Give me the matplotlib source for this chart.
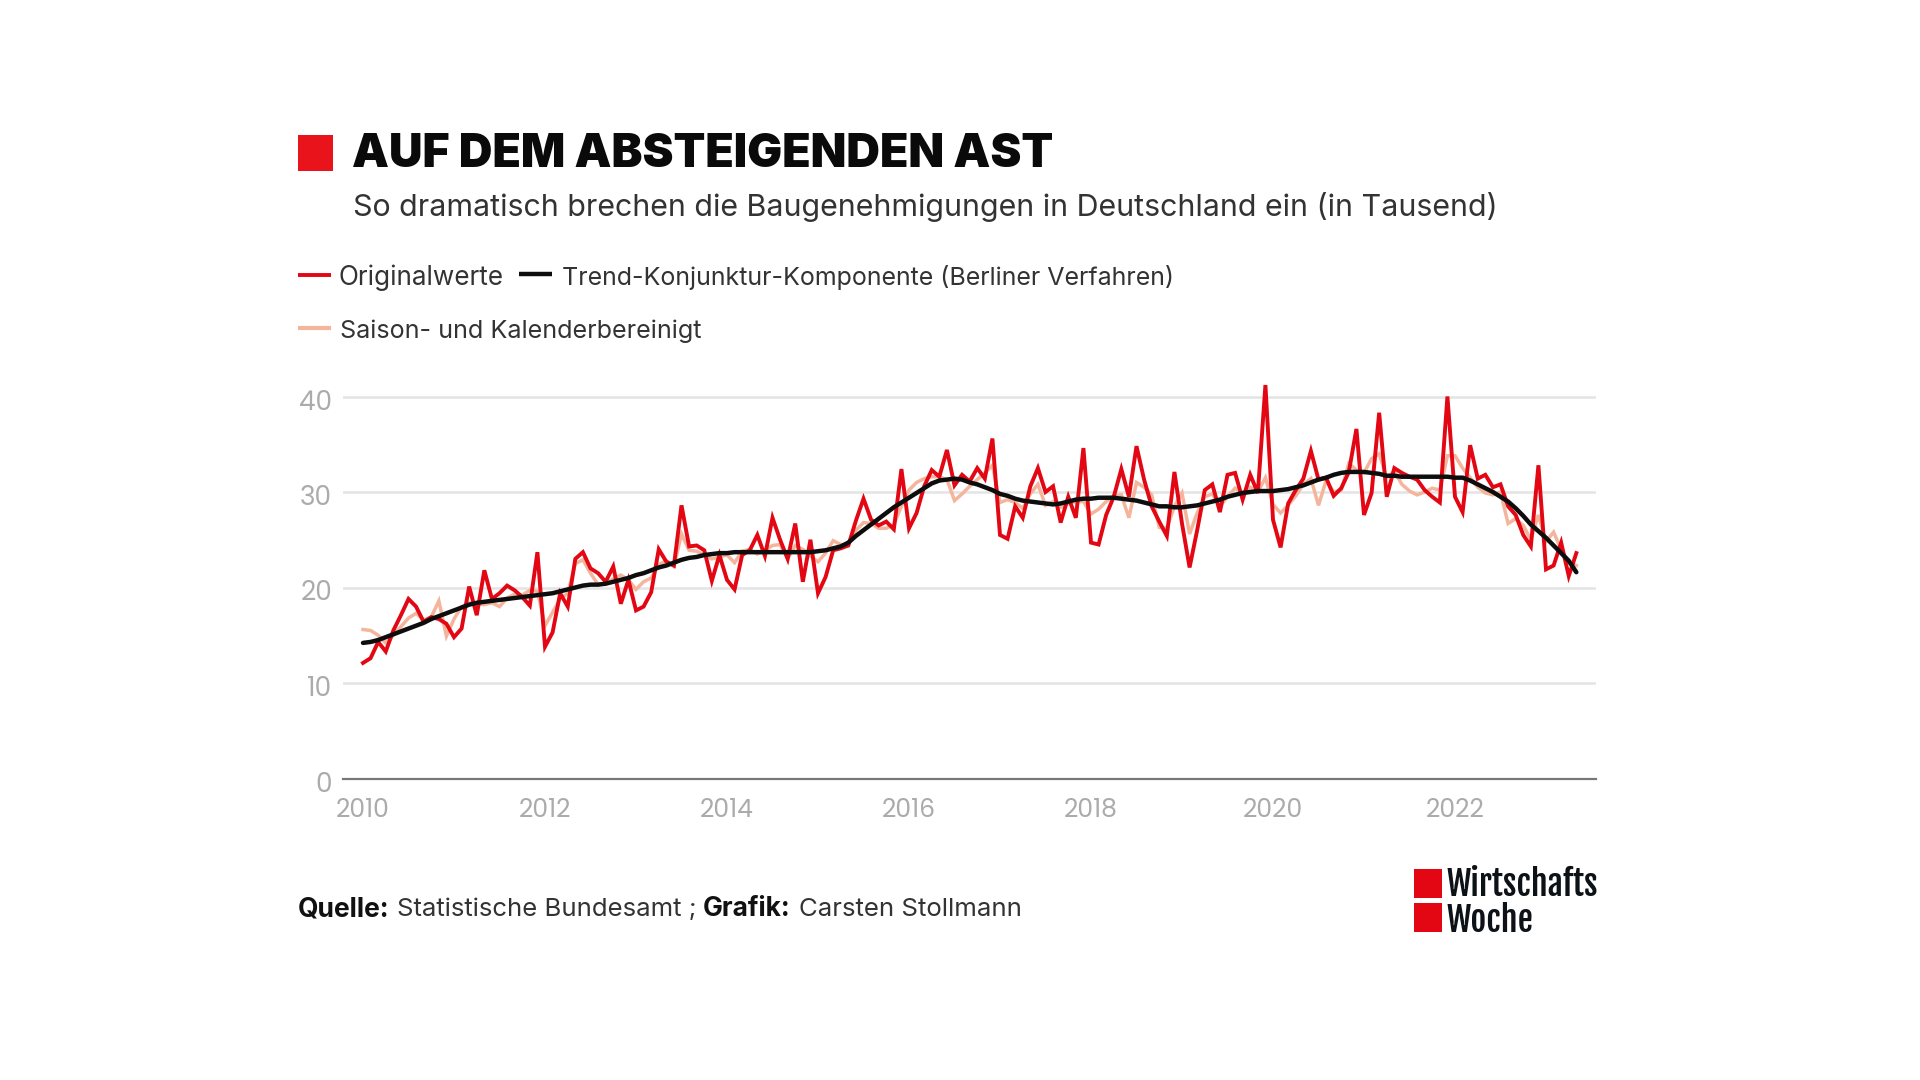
import numpy as np
import matplotlib
matplotlib.use("Agg")
import matplotlib.pyplot as plt
from matplotlib.patches import Rectangle
from matplotlib.lines import Line2D
from matplotlib.transforms import ScaledTranslation

TITLE = "AUF DEM ABSTEIGENDEN AST"
SUBTITLE = "So dramatisch brechen die Baugenehmigungen in Deutschland ein (in Tausend)"
LEGEND_ORIG = "Originalwerte"
LEGEND_TREND = "Trend-Konjunktur-Komponente (Berliner Verfahren)"
LEGEND_SA = "Saison- und Kalenderbereinigt"
YEAR_TICKS = [2010, 2012, 2014, 2016, 2018, 2020, 2022]
VALUE_TICKS = [0, 10, 20, 30, 40]

original = [
    12.1, 12.6, 14.3, 13.3, 15.5, 17.1, 18.8, 18.0, 16.4, 16.9, 16.7, 16.2,
    14.8, 15.7, 20.1, 17.1, 21.8, 18.8, 19.4, 20.2, 19.7, 19.0, 18.1, 23.7,
    13.8, 15.3, 19.4, 18.0, 23.0, 23.7, 22.0, 21.5, 20.6, 22.2, 18.3, 20.8,
    17.6, 18.0, 19.5, 24.0, 22.7, 22.3, 28.6, 24.3, 24.4, 23.9, 20.7, 23.4,
    20.8, 19.8, 23.4, 23.9, 25.5, 23.3, 27.3, 25.0, 23.0, 26.7, 20.6, 25.0,
    19.4, 21.1, 23.9, 24.1, 24.4, 27.0, 29.3, 27.1, 26.5, 26.9, 26.1, 32.4,
    26.2, 27.8, 30.6, 32.3, 31.6, 34.4, 30.7, 31.8, 31.1, 32.5, 31.4, 35.6,
    25.5, 25.1, 28.5, 27.3, 30.6, 32.5, 30.0, 30.6, 26.8, 29.5, 27.3, 34.6,
    24.7, 24.5, 27.6, 29.5, 32.4, 29.5, 34.8, 31.3, 28.5, 26.9, 25.4, 32.1,
    26.7, 22.1, 26.0, 30.2, 30.8, 27.9, 31.8, 32.0, 29.2, 31.8, 29.9, 41.2,
    27.1, 24.2, 28.8, 30.2, 31.4, 34.3, 31.3, 31.5, 29.6, 30.4, 32.1, 36.6,
    27.6, 29.9, 38.3, 29.5, 32.5, 32.0, 31.6, 31.3, 30.2, 29.5, 28.9, 40.0,
    29.5, 27.9, 34.9, 31.4, 31.8, 30.5, 30.8, 28.5, 27.6, 25.5, 24.3, 32.8,
    21.9, 22.3, 24.7, 21.2, 23.6,
]
seasonal = [
    15.6, 15.5, 15.0, 14.2, 15.0, 15.9, 16.8, 17.3, 16.6, 16.9, 18.6, 14.9,
    16.7, 18.0, 18.4, 18.3, 18.2, 18.4, 18.0, 18.9, 19.3, 19.2, 19.7, 19.6,
    16.0, 17.4, 18.8, 19.4, 22.5, 22.9, 21.5, 20.3, 20.4, 20.9, 21.3, 20.8,
    19.8, 20.6, 21.0, 22.4, 22.8, 22.2, 25.6, 23.9, 23.8, 23.4, 23.0, 23.2,
    23.4, 22.6, 23.8, 24.0, 23.5, 23.9, 24.4, 24.5, 23.0, 24.4, 24.0, 23.3,
    22.7, 23.6, 24.9, 24.5, 24.4, 26.0, 26.8, 26.7, 26.2, 26.2, 26.6, 28.5,
    30.2, 31.0, 31.4, 31.6, 31.6, 31.3, 29.1, 29.8, 30.6, 31.3, 32.0, 32.8,
    28.9, 29.2, 28.9, 28.3, 29.8, 30.8, 28.6, 29.0, 28.4, 28.8, 29.0, 29.0,
    27.7, 28.2, 29.0, 29.6, 29.7, 27.3, 31.0, 30.5, 29.7, 26.3, 26.2, 28.5,
    29.9, 25.6, 27.8, 29.5, 29.8, 28.5, 29.5, 30.4, 29.9, 30.5, 30.0, 31.5,
    28.7, 27.8, 28.6, 29.6, 30.8, 31.4, 28.6, 31.2, 30.0, 30.2, 33.0, 32.3,
    32.0, 33.5, 34.0, 31.5, 32.2, 30.8, 30.1, 29.7, 30.0, 30.4, 30.2, 33.8,
    33.8, 32.5, 31.5, 30.5, 29.9, 29.7, 30.0, 26.7, 27.2, 26.5, 25.0, 27.6,
    24.8, 25.8, 24.0, 22.6, 22.3,
]
trend = [
    14.2, 14.3, 14.5, 14.8, 15.1, 15.4, 15.7, 16.0, 16.3, 16.7, 17.0, 17.3,
    17.6, 17.9, 18.2, 18.4, 18.5, 18.6, 18.7, 18.8, 18.9, 19.0, 19.1, 19.2,
    19.3, 19.4, 19.6, 19.8, 20.0, 20.2, 20.3, 20.3, 20.4, 20.6, 20.8, 21.0,
    21.3, 21.5, 21.8, 22.1, 22.3, 22.6, 22.9, 23.1, 23.2, 23.4, 23.5, 23.6,
    23.6, 23.7, 23.7, 23.7, 23.7, 23.7, 23.7, 23.7, 23.7, 23.7, 23.7, 23.7,
    23.8, 23.9, 24.1, 24.3, 24.7, 25.4, 26.0, 26.6, 27.2, 27.8, 28.4, 28.9,
    29.4, 29.9, 30.4, 30.9, 31.2, 31.3, 31.4, 31.3, 31.0, 30.8, 30.5, 30.2,
    29.8, 29.6, 29.3, 29.1, 29.0, 28.9, 28.8, 28.7, 28.8, 29.0, 29.2, 29.3,
    29.3, 29.4, 29.4, 29.4, 29.3, 29.2, 29.1, 28.9, 28.7, 28.5, 28.5, 28.4,
    28.4, 28.5, 28.6, 28.8, 29.0, 29.2, 29.5, 29.7, 29.9, 30.0, 30.1, 30.1,
    30.1, 30.2, 30.3, 30.5, 30.7, 31.0, 31.3, 31.5, 31.8, 32.0, 32.1, 32.1,
    32.1, 32.0, 31.9, 31.7, 31.7, 31.6, 31.6, 31.6, 31.6, 31.6, 31.6, 31.6,
    31.5, 31.5, 31.2, 30.8, 30.4, 30.0, 29.5, 29.0, 28.3, 27.5, 26.6, 25.9,
    25.2, 24.4, 23.6, 22.8, 21.6,
]
years = 2010 + np.arange(len(original)) / 12

RED = "#e30613"
LIGHT = "#f4b59c"
BLACK = "#0d0d0d"
TXT = "#333333"
GREY = "#ababab"
FW, FH = 1920, 1080
TICK_FONT = ["Poppins", "DejaVu Sans"]
LOGO_FONT = ["Fjalla One", "Liberation Sans", "DejaVu Sans"]

fig = plt.figure(figsize=(FW / 100, FH / 100), dpi=100, facecolor="white")

def px_text(x, y, s, **kw):
    kw.setdefault("va", "center")
    kw.setdefault("ha", "left")
    return fig.text(x / FW, 1 - y / FH, s, **kw)

def px_rect(x0, y0, x1, y1, color):
    fig.add_artist(Rectangle((x0 / FW, 1 - y1 / FH), (x1 - x0) / FW, (y1 - y0) / FH,
                             transform=fig.transFigure, facecolor=color, edgecolor="none"))

def px_line(x0, x1, y, color, lw):
    fig.add_artist(Line2D([x0 / FW, x1 / FW], [1 - y / FH, 1 - y / FH],
                          transform=fig.transFigure, color=color, lw=lw,
                          solid_capstyle="butt"))

# Plot area
left, right, bottom, top = 343, 1596, 778.5, 378
ax = fig.add_axes([left / FW, 1 - bottom / FH, (right - left) / FW, (bottom - top) / FH])
ax.set_xlim(2010 - 20 / 91.0, 2010 + (right - 363) / 91.0)
ax.set_ylim(0, (bottom - top) / 9.55)
ax.set_facecolor("none")
for s in ("top", "left", "right"):
    ax.spines[s].set_visible(False)
ax.spines["bottom"].set_color("#777777")
ax.spines["bottom"].set_linewidth(1.6)
ax.set_yticks(VALUE_TICKS)
ax.set_xticks(YEAR_TICKS)
ax.grid(axis="y", color="#e4e4e4", lw=1.8)
ax.set_axisbelow(True)
ax.tick_params(axis="x", length=0, labelcolor=GREY, labelsize=18, pad=14)
ax.tick_params(axis="y", length=0, labelcolor=GREY, labelsize=19, pad=8)
for lab in ax.get_yticklabels() + ax.get_xticklabels():
    lab.set_family(TICK_FONT)
for lab in ax.get_yticklabels():
    lab.set_transform(lab.get_transform() + ScaledTranslation(0, -3 / 100, fig.dpi_scale_trans))

ax.plot(years, seasonal, color=LIGHT, lw=2.5, solid_joinstyle="miter", zorder=3)
ax.plot(years, original, color=RED, lw=2.8, solid_joinstyle="miter", zorder=4)
ax.plot(years, trend, color=BLACK, lw=3.2, solid_capstyle="round", zorder=5)

# Title block
px_rect(298, 135, 333, 171, "#e8131b")
px_text(352, 155, TITLE, fontsize=33.5, fontweight="black", family="Inter", color="#0a0a0a")
px_text(353, 207, SUBTITLE, fontsize=21.9, family="Inter", color=TXT)

# Legend
px_line(298, 331, 275, RED, 2.8)
px_text(339, 278, LEGEND_ORIG, fontsize=18.8, family="Inter", color=TXT)
px_line(519, 552, 274, BLACK, 3.2)
px_text(562, 278, LEGEND_TREND, fontsize=18, family="Inter", color=TXT)
px_line(298, 331, 328, LIGHT, 3)
px_text(340, 331, LEGEND_SA, fontsize=18.1, family="Inter", color=TXT)

# Footer
px_text(298, 909, "Quelle:", fontsize=19, fontweight="bold", family="Inter", color="#111111")
px_text(397, 909, "Statistische Bundesamt ;", fontsize=18.5, family="Inter", color=TXT)
px_text(703, 909, "Grafik:", fontsize=19, fontweight="bold", family="Inter", color="#111111")
px_text(799, 909, "Carsten Stollmann", fontsize=18.6, family="Inter", color=TXT)

# Publisher mark
px_rect(1414, 869, 1442, 898, "#e30613")
px_rect(1414, 903, 1442, 932, "#e30613")
px_text(1447, 885, "Wirtschafts", fontsize=24.6, family=LOGO_FONT, color="#0d1217")
px_text(1447, 920, "Woche", fontsize=24.6, family=LOGO_FONT, color="#0d1217")

fig.savefig("out.png", dpi=100, facecolor="white")
